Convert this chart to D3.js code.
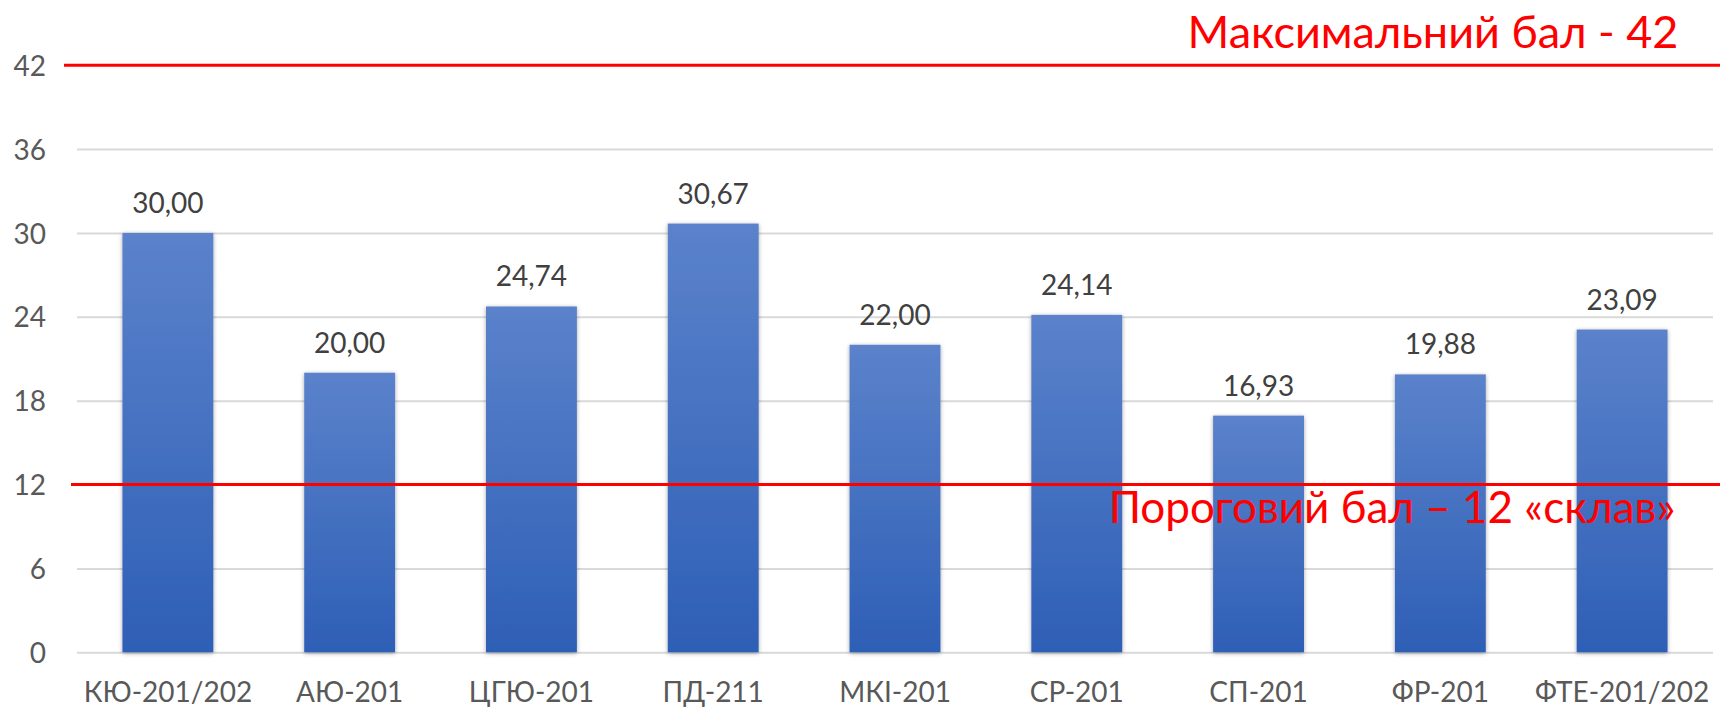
<!DOCTYPE html>
<html>
<head>
<meta charset="utf-8">
<script src="https://cdn.jsdelivr.net/npm/d3@7"></script>
<style>
  html, body { margin: 0; padding: 0; background: #ffffff; }
  svg { display: block; }
</style>
</head>
<body>
<svg id="chart" width="1720" height="709"></svg>
<script>
// ---- Data ----
const categories = ["КЮ-201/202", "АЮ-201", "ЦГЮ-201", "ПД-211", "МКІ-201", "СР-201", "СП-201", "ФР-201", "ФТЕ-201/202"];
const values = [30.00, 20.00, 24.74, 30.67, 22.00, 24.14, 16.93, 19.88, 23.09];
const yTicks = [0, 6, 12, 18, 24, 30, 36, 42];
const maxScore = 42;
const thresholdScore = 12;
const maxLabel = "Максимальний бал - 42";
const thresholdLabel = "Пороговий бал – 12 «склав»";

// ---- Layout ----
const W = 1720, H = 709;
const plotLeft = 77, plotRight = 1713;
const plotBottom = 652.3, plotTop = 65.2;
const fontFamily = "Lato, 'Open Sans', sans-serif";
const textColor = "#595959";

const svg = d3.select("#chart");

const defs = svg.append("defs");
const grad = defs.append("linearGradient")
  .attr("id", "barGrad").attr("x1", 0).attr("y1", 0).attr("x2", 0).attr("y2", 1);
grad.append("stop").attr("offset", "0%").attr("stop-color", "#5b82cb");
grad.append("stop").attr("offset", "100%").attr("stop-color", "#2e5fb6");

const shadow = defs.append("filter").attr("id", "barShadow")
  .attr("x", "-20%").attr("y", "-5%").attr("width", "140%").attr("height", "110%");
shadow.append("feDropShadow").attr("dx", 0).attr("dy", 1).attr("stdDeviation", 2.2)
  .attr("flood-color", "#000").attr("flood-opacity", 0.35);

const x = d3.scaleBand()
  .domain(categories)
  .range([plotLeft, plotRight])
  .paddingInner(0.5)
  .paddingOuter(0.25);

const y = d3.scaleLinear()
  .domain([0, maxScore])
  .range([plotBottom, plotTop]);

// Gridlines (except top value which is covered by the red max line)
const grid = svg.append("g")
  .attr("transform", `translate(${plotLeft},0)`)
  .call(d3.axisLeft(y).tickValues(yTicks.filter(t => t !== maxScore)).tickSize(-(plotRight - plotLeft)).tickFormat(""));
grid.select(".domain").remove();
grid.selectAll(".tick line").attr("stroke", "#d9d9d9").attr("stroke-width", 2);

// Y tick labels
const yAxis = svg.append("g")
  .attr("transform", `translate(46,0)`)
  .call(d3.axisLeft(y).tickValues(yTicks).tickSize(0).tickPadding(0).tickFormat(d3.format("d")));
yAxis.select(".domain").remove();
yAxis.selectAll("text")
  .attr("fill", textColor)
  .attr("font-family", fontFamily)
  .attr("font-size", 28)
  .attr("dy", "0.36em");

// Bars
svg.append("g").selectAll("rect")
  .data(values)
  .join("rect")
  .attr("x", (d, i) => x(categories[i]))
  .attr("y", d => y(d))
  .attr("width", x.bandwidth())
  .attr("height", d => y(0) - y(d))
  .attr("fill", "url(#barGrad)")
  .attr("filter", "url(#barShadow)");

// Value labels
const fmt = v => d3.format(".2f")(v).replace(".", ",");
svg.append("g").selectAll("text")
  .data(values)
  .join("text")
  .attr("x", (d, i) => x(categories[i]) + x.bandwidth() / 2)
  .attr("y", d => y(d) - 20)
  .attr("text-anchor", "middle")
  .attr("fill", "#404040")
  .attr("font-family", fontFamily)
  .attr("font-size", 28)
  .text(d => fmt(d));

// X axis labels
const xAxis = svg.append("g")
  .attr("transform", `translate(0,${plotBottom})`)
  .call(d3.axisBottom(x).tickSize(0).tickPadding(0));
xAxis.select(".domain").remove();
xAxis.selectAll("text")
  .attr("fill", textColor)
  .attr("font-family", fontFamily)
  .attr("font-size", 28)
  .attr("dy", 0)
  .attr("y", 50);

// Red reference lines
svg.append("line")
  .attr("x1", 64).attr("x2", W)
  .attr("y1", y(maxScore)).attr("y2", y(maxScore))
  .attr("stroke", "#ff0000").attr("stroke-width", 3);
svg.append("line")
  .attr("x1", 71).attr("x2", W)
  .attr("y1", y(thresholdScore)).attr("y2", y(thresholdScore))
  .attr("stroke", "#ff0000").attr("stroke-width", 3);

// Red labels
svg.append("text")
  .attr("x", 1433).attr("y", y(maxScore) - 17.5)
  .attr("text-anchor", "middle")
  .attr("fill", "#ff0000")
  .attr("font-family", fontFamily)
  .attr("font-size", 45)
  .text(maxLabel);
svg.append("text")
  .attr("x", 1392).attr("y", y(thresholdScore) + 38.5)
  .attr("text-anchor", "middle")
  .attr("fill", "#ff0000")
  .attr("font-family", fontFamily)
  .attr("font-size", 44)
  .text(thresholdLabel);
</script>
</body>
</html>
